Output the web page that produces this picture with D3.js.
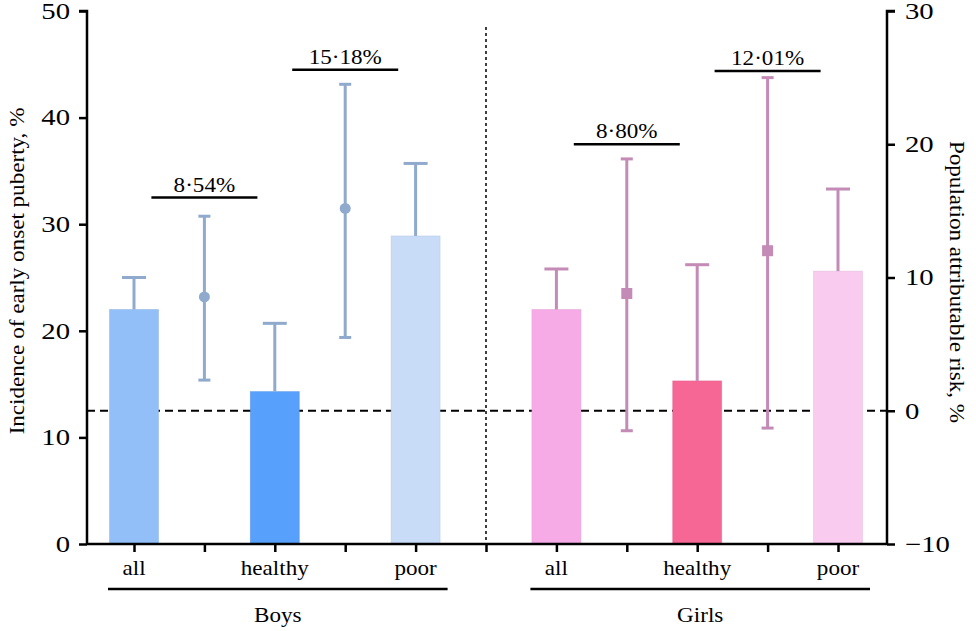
<!DOCTYPE html>
<html>
<head>
<meta charset="utf-8">
<script src="https://cdn.jsdelivr.net/npm/d3@7"></script>
<style>
  body { margin: 0; background: #fff; }
  text { font-family: "Liberation Serif", "DejaVu Serif", serif; fill: #000; }
</style>
</head>
<body>
<script>
// chart values
var groups = ["Boys", "Girls"];
var categories = ["all", "healthy", "poor"];

var boysIncidence = [22.0, 14.3, 28.9];
var boysIncUpper = [25.0, 20.7, 35.7];
var girlsIncidence = [22.0, 15.3, 25.6];
var girlsIncUpper = [25.8, 26.2, 33.3];

var boysPar = [8.54, 15.18];
var boysParLow = [2.3, 5.5];
var boysParHigh = [14.6, 24.5];
var girlsPar = [8.80, 12.01];
var girlsParLow = [-1.5, -1.3];
var girlsParHigh = [18.9, 25.0];
var parLabels = [["8·54%", "15·18%"], ["8·80%", "12·01%"]];
var parLevel = [[16.0, 25.6], [20.0, 25.5]];

var leftTicks = [0, 10, 20, 30, 40, 50];
var rightTicks = [-10, 0, 10, 20, 30];

var barColors = [["#92bff7", "#57a0fb", "#c8dcf7"], ["#f6abe6", "#f76796", "#f8cbef"]];
var errColors = ["#8faacc", "#c38bb5"];

var width = 976, height = 631;
var plot = { left: 87, right: 887, top: 11, bottom: 544 };
var stretch = 1.05;     // the reference type is a little wide
var tickStretch = 1.25;

var svg = d3.select("body").append("svg")
    .attr("width", width)
    .attr("height", height);

var xScale = d3.scaleLinear().domain([0, 10]).range([134, 838]);
var yLeft = d3.scaleLinear().domain([0, 50]).range([plot.bottom, plot.top]);
var yRight = d3.scaleLinear().domain([-10, 30]).range([plot.bottom, plot.top]);

var barWidth = 49;

// wide text placed at x,y
function label(x, y, str, rot) {
  return svg.append("text")
      .attr("transform", "translate(" + x + "," + y + ")" + (rot ? " rotate(" + rot + ")" : "") + " scale(" + stretch + ",1)")
      .attr("text-anchor", "middle")
      .style("font-size", "22px")
      .text(str);
}

var data = [
  { inc: boysIncidence, up: boysIncUpper, par: boysPar, lo: boysParLow, hi: boysParHigh, offset: 0 },
  { inc: girlsIncidence, up: girlsIncUpper, par: girlsPar, lo: girlsParLow, hi: girlsParHigh, offset: 6 }
];

// reference dashed lines
svg.append("line")
    .attr("x1", plot.left).attr("x2", plot.right)
    .attr("y1", yRight(0)).attr("y2", yRight(0))
    .style("stroke", "#000").style("stroke-width", 2)
    .style("stroke-dasharray", "8,5");

svg.append("line")
    .attr("x1", xScale(5)).attr("x2", xScale(5))
    .attr("y1", 27).attr("y2", plot.bottom)
    .style("stroke", "#000").style("stroke-width", 1.5)
    .style("stroke-dasharray", "3,3");

data.forEach(function(g, gi) {
  var bars = svg.append("g");
  // bars
  bars.selectAll("rect")
      .data(g.inc)
      .enter().append("rect")
      .attr("x", function(d, i) { return xScale(g.offset + i*2) - barWidth/2; })
      .attr("y", function(d) { return yLeft(d); })
      .attr("width", barWidth)
      .attr("height", function(d) { return yLeft(0) - yLeft(d); })
      .style("fill", function(d, i) { return barColors[gi][i]; })
      .style("stroke", function(d, i) { return d3.color(barColors[gi][i]).darker(0.3); })
      .style("stroke-width", 0.8)
      .style("stroke-opacity", 0.5);

  // upper whiskers on bars
  g.inc.forEach(function(d, i) {
    var cx = xScale(g.offset + i*2);
    bars.append("line")
        .attr("x1", cx).attr("x2", cx)
        .attr("y1", yLeft(d)).attr("y2", yLeft(g.up[i]))
        .style("stroke", errColors[gi]).style("stroke-width", 3);
    bars.append("line")
        .attr("x1", cx - 12).attr("x2", cx + 12)
        .attr("y1", yLeft(g.up[i])).attr("y2", yLeft(g.up[i]))
        .style("stroke", errColors[gi]).style("stroke-width", 3);
  });

  // attributable risk points with CI
  g.par.forEach(function(d, i) {
    var cx = xScale(g.offset + 1 + i*2);
    bars.append("line")
        .attr("x1", cx).attr("x2", cx)
        .attr("y1", yRight(g.lo[i])).attr("y2", yRight(g.hi[i]))
        .style("stroke", errColors[gi]).style("stroke-width", 3);
    [g.lo[i], g.hi[i]].forEach(function(v) {
      bars.append("line")
          .attr("x1", cx - 6).attr("x2", cx + 6)
          .attr("y1", yRight(v)).attr("y2", yRight(v))
          .style("stroke", errColors[gi]).style("stroke-width", 3);
    });
    if (gi == 0) {
      bars.append("circle")
          .attr("cx", cx).attr("cy", yRight(d)).attr("r", 5.5)
          .style("fill", errColors[gi]);
    } else {
      bars.append("rect")
          .attr("x", cx - 5.5).attr("y", yRight(d) - 5.5)
          .attr("width", 11).attr("height", 11)
          .style("fill", errColors[gi]);
    }

    // annotation bracket
    var ly = yRight(parLevel[gi][i]);
    bars.append("line")
        .attr("x1", cx - 53).attr("x2", cx + 53)
        .attr("y1", ly).attr("y2", ly)
        .style("stroke", "#000").style("stroke-width", 2.5);
    label(cx, ly - 6, parLabels[gi][i]);
  });
});

// axes
var leftAxis = d3.axisLeft(yLeft).tickValues(leftTicks).tickSize(8).tickPadding(9);
var gl = svg.append("g").attr("transform", "translate(" + plot.left + ",0)").call(leftAxis);

var rightAxis = d3.axisRight(yRight).tickValues(rightTicks).tickSize(8).tickPadding(10)
    .tickFormat(function(d) { return d < 0 ? "\u2212" + Math.abs(d) : d; });
var gr = svg.append("g").attr("transform", "translate(" + plot.right + ",0)").call(rightAxis);

var bottomAxis = d3.axisBottom(xScale).tickValues(d3.range(0, 11)).tickSize(8).tickFormat("");
var gb = svg.append("g").attr("transform", "translate(0," + plot.bottom + ")").call(bottomAxis);

[gl, gr, gb].forEach(function(a) {
  a.select(".domain").style("stroke", "#000").style("stroke-width", 2.5);
  a.selectAll(".tick line").style("stroke", "#000").style("stroke-width", 2.5);
  a.selectAll(".tick text")
      .style("font-family", "Liberation Serif, serif")
      .style("font-size", "23px")
      .style("fill", "#000")
      .attr("x", function() { return +d3.select(this).attr("x") / tickStretch; })
      .attr("transform", "scale(" + tickStretch + ",1)");
});
gb.select(".domain").attr("d", "M" + plot.left + ",0H" + plot.right);
gl.select(".domain").attr("d", "M-8," + plot.top + "H0V" + plot.bottom);
gr.select(".domain").attr("d", "M8," + plot.top + "H0V" + plot.bottom);

// category and group labels
groups.forEach(function(grp, gi) {
  var off = gi * 6;
  categories.forEach(function(c, i) {
    label(xScale(off + i*2), 575, c);
  });
  var x0 = xScale(off) - 26, x1 = xScale(off + 4) + 32;
  svg.append("line")
      .attr("x1", x0).attr("x2", x1)
      .attr("y1", 589).attr("y2", 589)
      .style("stroke", "#000").style("stroke-width", 2.5);
  label((x0 + x1) / 2, 622, grp);
});

// axis titles
label(24, 271, "Incidence of early onset puberty, %", -90);
label(950, 282, "Population attributable risk, %", 90);
</script>
</body>
</html>
